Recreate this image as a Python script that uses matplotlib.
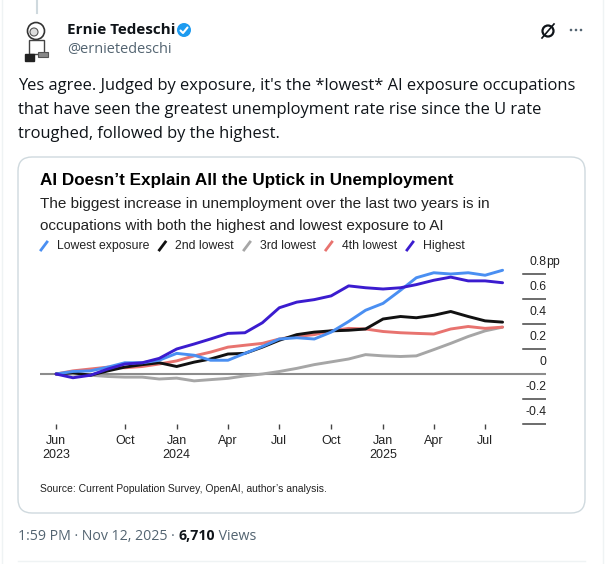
import matplotlib
matplotlib.use('Agg')
import matplotlib.pyplot as plt
import matplotlib.transforms as mtransforms
from matplotlib.patches import FancyBboxPatch, Circle, Rectangle
import pandas as pd

W, H = 610, 564

# data: change in unemployment rate since Jun 2023, pp
months = pd.date_range('2023-06-01', periods=27, freq='MS')
series_names = ['Lowest exposure', '2nd lowest', '3rd lowest', '4th lowest', 'Highest']
series_colors = ['#4a8ff2', '#111111', '#a6a6a6', '#e8736f', '#3b1ccf']
lowest = [0, 0.02, 0.025, 0.055, 0.09, 0.09, 0.11, 0.165, 0.15, 0.11, 0.11, 0.165, 0.22, 0.28,
          0.29, 0.28, 0.335, 0.42, 0.51, 0.565, 0.67, 0.77, 0.81, 0.8, 0.81, 0.79, 0.83]
second = [0, 0.01, -0.01, 0.025, 0.055, 0.075, 0.09, 0.06, 0.095, 0.12, 0.16, 0.165, 0.215, 0.27,
          0.315, 0.335, 0.345, 0.35, 0.36, 0.44, 0.46, 0.45, 0.47, 0.5, 0.46, 0.425, 0.415]
third = [0, 0.0, -0.01, -0.02, -0.025, -0.025, -0.04, -0.033, -0.055, -0.045, -0.035, -0.015, 0.0, 0.02,
         0.045, 0.075, 0.097, 0.12, 0.155, 0.145, 0.14, 0.145, 0.195, 0.245, 0.3, 0.345, 0.375]
fourth = [0, 0.025, 0.04, 0.055, 0.05, 0.06, 0.08, 0.105, 0.145, 0.175, 0.215, 0.23, 0.245, 0.28,
          0.3, 0.315, 0.345, 0.365, 0.36, 0.34, 0.33, 0.325, 0.32, 0.36, 0.38, 0.365, 0.375]
highest = [0, -0.03, -0.01, 0.04, 0.08, 0.09, 0.125, 0.2, 0.24, 0.28, 0.325, 0.33, 0.41, 0.53,
           0.575, 0.595, 0.625, 0.705, 0.69, 0.68, 0.69, 0.715, 0.75, 0.775, 0.745, 0.745, 0.73]
all_series = [lowest, second, third, fourth, highest]

tick_dates = pd.to_datetime(['2023-06-01', '2023-10-01', '2024-01-01', '2024-04-01', '2024-07-01',
                             '2024-10-01', '2025-01-01', '2025-04-01', '2025-07-01'])
tick_labels = ['Jun\n2023', 'Oct', 'Jan\n2024', 'Apr', 'Jul', 'Oct', 'Jan\n2025', 'Apr', 'Jul']
y_ticks = [0.8, 0.6, 0.4, 0.2, 0, -0.2, -0.4]
y_labels = ['0.8', '0.6', '0.4', '0.2', '0', '-0.2', '-0.4']

tweet_lines = ["Yes agree. Judged by exposure, it's the *lowest* AI exposure occupations",
               "that have seen the greatest unemployment rate rise since the U rate",
               "troughed, followed by the highest."]
footer_parts = [('1:59 PM \u00b7 Nov 12, 2025 \u00b7 ', 'normal', '#536471'),
                ('6,710', 'bold', '#0f1419'),
                (' Views', 'normal', '#536471')]

TW = 'Open Sans'
CH = 'Liberation Sans'

fig = plt.figure(figsize=(W / 100, H / 100), dpi=100)
fig.patch.set_facecolor('white')
bg = fig.add_axes([0, 0, 1, 1])
bg.set_xlim(0, W)
bg.set_ylim(H, 0)
bg.axis('off')
rend = fig.canvas.get_renderer()


def fit(t, width):
    w = t.get_window_extent(rend).width
    t.set_fontsize(t.get_fontsize() * width / w)
    return t


def right_end(t):
    # right edge of a text, in bg pixel coords
    bb = t.get_window_extent(rend)
    return bg.transData.inverted().transform((bb.x1, 0))[0]


# frame lines of the timeline
bg.plot([2, 2], [0, H], color='#eff3f4', lw=1)
bg.plot([603, 603], [0, H], color='#eff3f4', lw=1)
bg.plot([37, 37], [0, 13], color='#cfd9de', lw=1.5)
bg.plot([18, 585], [561, 561], color='#eff3f4', lw=1)

# avatar (rough sketch)
bg.add_patch(Circle((36, 31), 8.5, facecolor='white', edgecolor='#333333', lw=1.2))
bg.add_patch(Circle((34, 32), 4, facecolor='#dddddd', edgecolor='#555555', lw=0.8))
bg.add_patch(Rectangle((29, 40), 15, 14, facecolor='white', edgecolor='#444444', lw=1))
bg.add_patch(Rectangle((25, 54), 9, 7, facecolor='#222222', edgecolor='#222222', lw=1))
bg.add_patch(Rectangle((38, 52), 10, 5, facecolor='#888888', edgecolor='#555555', lw=0.8))

# header
name = bg.text(67, 30, 'Ernie Tedeschi', fontsize=11, fontweight='bold', family=TW,
               color='#0f1419', va='center', ha='left')
fit(name, 108)
bg.add_patch(Circle((184, 30), 7, facecolor='#1d9bf0', edgecolor='none'))
bg.plot([180.5, 183, 187.5], [30.5, 33, 27.5], color='white', lw=1.5, solid_capstyle='round')
handle = bg.text(67, 50, '@ernietedeschi', fontsize=11, family=TW, color='#536471',
                 va='center', ha='left')
fit(handle, 105)

bg.add_patch(Circle((548, 31), 5.5, facecolor='none', edgecolor='#0f1419', lw=1.6))
bg.plot([542, 554], [38, 24], color='#0f1419', lw=1.2)
for dx in (-5, 0, 5):
    bg.add_patch(Circle((576 + dx, 30), 1.3, facecolor='#536471', edgecolor='none'))

# tweet text
t0 = bg.text(18, 86, tweet_lines[0], fontsize=12.3, family=TW, color='#0f1419',
             va='center', ha='left')
fit(t0, 561)
for i, line in enumerate(tweet_lines[1:]):
    bg.text(18, 110 + 24 * i, line, fontsize=t0.get_fontsize(), family=TW, color='#0f1419',
            va='center', ha='left')

# card
bg.add_patch(FancyBboxPatch((18, 157), 567, 356, boxstyle='round,pad=0,rounding_size=14',
                            facecolor='white', edgecolor='#cfd9de', lw=1))

title = bg.text(40, 181, 'AI Doesn\u2019t Explain All the Uptick in Unemployment', fontsize=12,
                fontweight='bold', family=CH, color='#000000', va='center', ha='left')
fit(title, 410)
sub1 = bg.text(40, 204, 'The biggest increase in unemployment over the last two years is in',
               fontsize=11, family=CH, color='#222222', va='center', ha='left')
fit(sub1, 448)
bg.text(40, 226, 'occupations with both the highest and lowest exposure to AI',
        fontsize=sub1.get_fontsize(), family=CH, color='#222222', va='center', ha='left')

# legend
lx = 44
leg_size = None
for nm, col in zip(series_names, series_colors):
    bg.plot([lx - 3, lx + 3], [250, 242], color=col, lw=2)
    t = bg.text(lx + 13, 246, nm, fontsize=leg_size or 8.5, family=CH, color='#222222',
                va='center', ha='left')
    if leg_size is None:
        fit(t, 92)
        leg_size = t.get_fontsize()
    lx = right_end(t) + 13

src = bg.text(40, 489, 'Source: Current Population Survey, OpenAI, author\u2019s analysis.',
              fontsize=7, family=CH, color='#222222', va='center', ha='left')
fit(src, 286)

# footer
fx = 18
for txt, wt, col in footer_parts:
    t = bg.text(fx, 536, txt, fontsize=10.2, family=TW, fontweight=wt, color=col,
                va='center', ha='left')
    fx = right_end(t)

# chart axes
x0, y0, x1, y1 = 40, 255, 546, 429
ax = fig.add_axes([x0 / W, 1 - y1 / H, (x1 - x0) / W, (y1 - y0) / H])
ax.set_facecolor('none')
ax.set_xlim(months[0] - pd.Timedelta(days=28.4), months[0] + pd.Timedelta(days=869))
ax.set_ylim(-0.44, 0.952)
for s in ax.spines.values():
    s.set_visible(False)

ax.axhline(0, color='#8c8c8c', lw=1.5, zorder=1)
seg_start = (523 - x0) / (x1 - x0)
for v in y_ticks:
    if v != 0:
        ax.axhline(v, xmin=seg_start, xmax=1, color='#444444', lw=1.1)

trans = mtransforms.blended_transform_factory(ax.transAxes, ax.transData)
for v, lab in zip(y_ticks, y_labels):
    ax.text(1.0, v + 0.095, lab, transform=trans, ha='right', va='center', fontsize=8.8,
            family=CH, color='#222222')
ax.text(1.0, 0.8 + 0.095, 'pp', transform=trans, ha='left', va='center', fontsize=8.8,
        family=CH, color='#222222')

order = [2, 3, 1, 0, 4]
for i in order:
    ax.plot(months, all_series[i], color=series_colors[i], lw=2.1, zorder=3,
            solid_joinstyle='round', solid_capstyle='round')

ax.set_yticks([])
ax.set_xticks(tick_dates)
ax.set_xticklabels(tick_labels, fontsize=9, family=CH, color='#222222', linespacing=1.25)
ax.tick_params(axis='x', direction='in', length=3.6, width=1, color='#444444', pad=4)

fig.savefig('out.png', dpi=100, facecolor='white')
